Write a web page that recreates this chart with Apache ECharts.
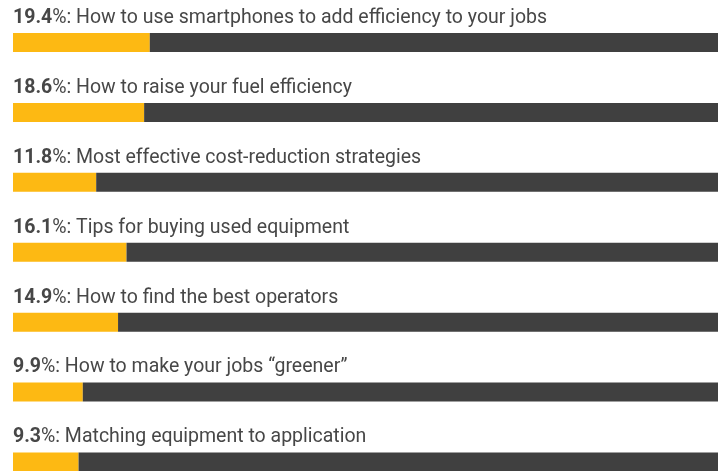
<!DOCTYPE html>
<html><head><meta charset="utf-8">
<script src="https://cdn.jsdelivr.net/npm/echarts@6/dist/echarts.min.js"></script>
<style>html,body{margin:0;padding:0;background:#fff}#c{width:724px;height:471px}</style>
</head><body><div id="c"></div>
<script>
const topics = [
  "How to use smartphones to add efficiency to your jobs",
  "How to raise your fuel efficiency",
  "Most effective cost-reduction strategies",
  "Tips for buying used equipment",
  "How to find the best operators",
  "How to make your jobs \u201cgreener\u201d",
  "Matching equipment to application"
];
const percents = [19.4, 18.6, 11.8, 16.1, 14.9, 9.9, 9.3];
const total = 100;

const chart = echarts.init(document.getElementById('c'), null, {renderer:'canvas'});
chart.setOption({
  animation: false,
  grid: {left: 13, right: 6, top: 42.5, bottom: 9, containLabel: false},
  xAxis: {type: 'value', min: 0, max: total, show: false},
  yAxis: {type: 'category', data: topics, inverse: true, boundaryGap: false, show: false},
  series: [
    {
      type: 'bar', stack: 's', barWidth: 19,
      data: percents,
      itemStyle: {color: '#FDB913'},
      label: {
        show: true,
        position: [0, -25],
        color: '#474747',
        fontFamily: 'Roboto',
        fontSize: 19.5,
        formatter: p => '{b|' + p.value.toFixed(1) + '}%: ' + p.name,
        rich: {b: {fontWeight: 'bold', fontFamily: 'Roboto', fontSize: 19.5, color: '#474747'}}
      }
    },
    {
      type: 'bar', stack: 's', barWidth: 19,
      data: percents.map(v => total - v),
      itemStyle: {color: '#404040'}
    }
  ]
});
</script></body></html>
